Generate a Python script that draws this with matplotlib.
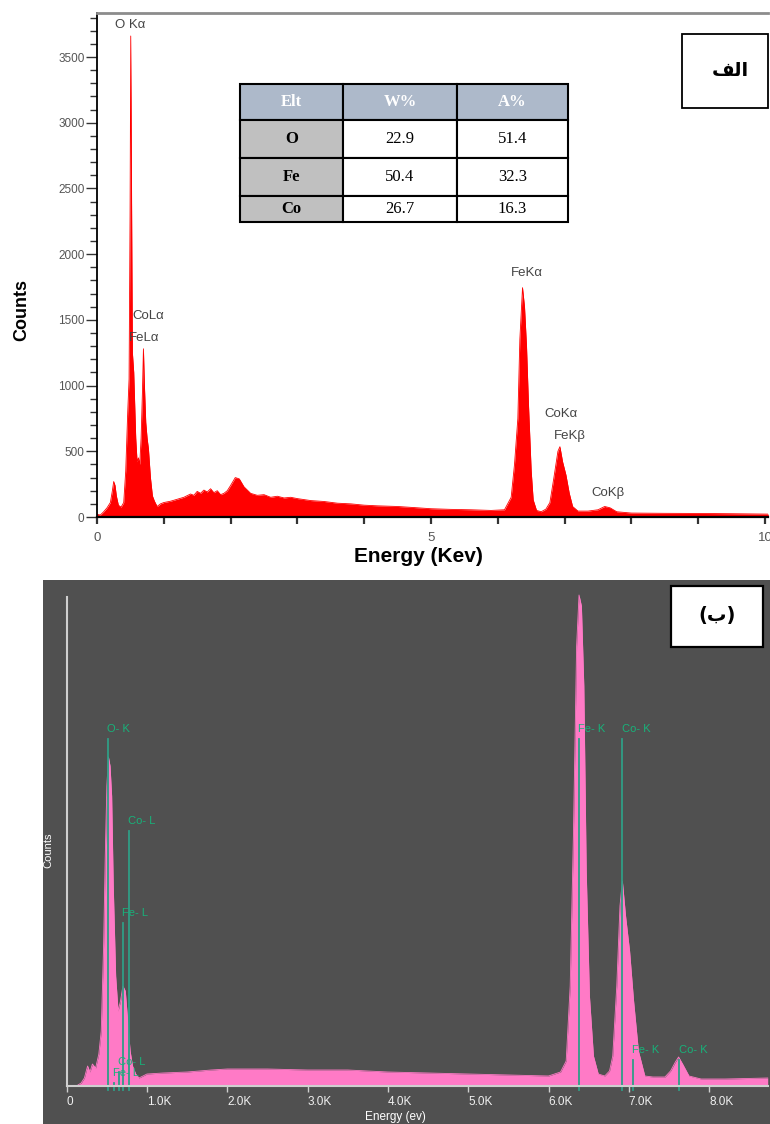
import matplotlib
matplotlib.use('Agg')
import matplotlib.pyplot as plt
from matplotlib.patches import Rectangle

plt.rcParams['font.family'] = ['Liberation Sans', 'DejaVu Sans']

# ---- panel (a): EDS spectrum, energy in keV ----
energy_a = [0.00, 0.05, 0.10, 0.15, 0.20, 0.23, 0.25, 0.27, 0.29, 0.32, 0.36, 0.40, 0.43, 0.46,
            0.48, 0.495, 0.505, 0.515, 0.53, 0.55, 0.58, 0.60, 0.62, 0.64, 0.66, 0.68, 0.695,
            0.71, 0.73, 0.75, 0.77, 0.80, 0.83, 0.86, 0.90, 0.95, 1.00, 1.10, 1.20, 1.30,
            1.40, 1.45, 1.50, 1.55, 1.60, 1.65, 1.70, 1.75, 1.80, 1.85, 1.90, 1.95, 2.00,
            2.07, 2.13, 2.20, 2.30, 2.40, 2.50, 2.60, 2.70, 2.80, 2.90, 3.00, 3.20, 3.40,
            3.60, 3.80, 4.00, 4.20, 4.50, 4.80, 5.00, 5.30, 5.60, 5.90, 6.10, 6.20, 6.25,
            6.30, 6.33, 6.37, 6.40, 6.43, 6.46, 6.50, 6.53, 6.58, 6.65, 6.72, 6.78, 6.84,
            6.90, 6.93, 6.97, 7.02, 7.07, 7.12, 7.20, 7.35, 7.50, 7.60, 7.68, 7.78, 8.00,
            8.50, 9.00, 9.50, 10.05]
counts_a = [20, 15, 40, 70, 110, 200, 270, 240, 160, 90, 75, 110, 350, 800,
            1050, 2300, 3660, 2650, 1250, 1100, 600, 420, 450, 400, 600, 950, 1280,
            1000, 720, 600, 520, 300, 160, 120, 80, 100, 110, 120, 135, 150,
            175, 165, 195, 180, 205, 190, 215, 185, 200, 170, 180, 200, 240,
            300, 290, 230, 180, 165, 170, 150, 158, 145, 150, 140, 125, 118,
            105, 100, 90, 85, 80, 70, 63, 58, 55, 50, 55, 150, 400,
            750, 1350, 1745, 1600, 1300, 850, 350, 130, 50, 40, 60, 110, 300,
            500, 535, 420, 320, 180, 80, 45, 45, 55, 80, 70, 40, 30,
            28, 27, 25, 22]

peak_names_a = ["O K\u03b1", "CoL\u03b1", "FeL\u03b1", "FeK\u03b1", "CoK\u03b1", "FeK\u03b2", "CoK\u03b2"]
peak_x_a = [0.50, 0.76, 0.70, 6.44, 6.95, 7.08, 7.65]
peak_y_a = [3745, 1530, 1360, 1857, 784, 616, 183]

table_cols = ["Elt", "W%", "A%"]
elements = ["O", "Fe", "Co"]
weight_pct = [22.9, 50.4, 26.7]
atomic_pct = [51.4, 32.3, 16.3]

# ---- panel (b): EDS spectrum, energy in keV (axis shown in eV) ----
energy_b = [0.00, 0.12, 0.18, 0.22, 0.26, 0.29, 0.32, 0.36, 0.40, 0.43, 0.46, 0.48, 0.50,
            0.52, 0.54, 0.56, 0.58, 0.61, 0.64, 0.67, 0.70, 0.73, 0.76, 0.79, 0.82, 0.86,
            0.90, 0.95, 1.00, 1.20, 1.50, 1.80, 2.00, 2.50, 3.00, 3.50, 4.00, 4.50, 5.00,
            5.50, 6.00, 6.15, 6.22, 6.27, 6.31, 6.35, 6.38, 6.41, 6.44, 6.47, 6.51, 6.56,
            6.62, 6.70, 6.76, 6.80, 6.85, 6.89, 6.92, 6.96, 7.01, 7.06, 7.12, 7.20, 7.30,
            7.45, 7.52, 7.58, 7.62, 7.67, 7.75, 7.90, 8.20, 8.73]
counts_b = [0, 0, 3, 8, 20, 14, 22, 18, 32, 55, 142, 230, 300,
            329, 320, 290, 200, 110, 75, 85, 100, 95, 65, 35, 20, 12,
            8, 10, 12, 13, 14, 16, 17, 17, 16, 16, 14, 13, 12,
            11, 10, 14, 25, 100, 250, 440, 491, 480, 400, 215, 90, 30,
            12, 10, 15, 30, 100, 180, 205, 170, 135, 85, 35, 10, 9,
            9, 15, 24, 29, 22, 10, 7, 7, 8]

line_names_b = ["O- K", "Co- L", "Fe- L", "Co- L", "Fe- L", "Fe- K", "Co- K", "Fe- K", "Co- K"]
line_x_b = [0.51, 0.77, 0.70, 0.65, 0.59, 6.38, 6.92, 7.05, 7.63]
line_h_b = [347, 255, 163, 14, 3, 347, 347, 26, 26]

xticks_b = [0, 1, 2, 3, 4, 5, 6, 7, 8]
xtick_labels_b = ["0", "1.0K", "2.0K", "3.0K", "4.0K", "5.0K", "6.0K", "7.0K", "8.0K"]

W, H = 770, 1124
fig = plt.figure(figsize=(W / 100, H / 100), dpi=100)

# ================= panel (a) =================
ax1 = fig.add_axes([97 / W, 1 - 517 / H, 671 / W, 504 / H])
ax1.fill_between(energy_a, counts_a, 0, color='#ff0000', lw=0)
ax1.plot(energy_a, counts_a, color='#ff0000', lw=0.6)
ax1.set_xlim(0, 10.045)
ax1.set_ylim(0, 3835)

ax1.spines['right'].set_visible(False)
ax1.spines['top'].set_color('#8c8c8c')
ax1.spines['top'].set_linewidth(2)
ax1.spines['left'].set_linewidth(1.3)
ax1.spines['bottom'].set_linewidth(1.6)

ax1.set_yticks(range(0, 3501, 500))
ax1.set_yticks(range(0, 3801, 100), minor=True)
ax1.set_xticks([0, 5, 10])
ax1.set_xticks(range(0, 11), minor=True)
ax1.tick_params(axis='y', which='major', length=8, width=1, color='#333333',
                labelsize=8.5, labelcolor='#555555', pad=1)
ax1.tick_params(axis='y', which='minor', length=5, width=1, color='#333333')
ax1.tick_params(axis='x', which='both', length=5, width=1.6, color='#333333',
                labelsize=9.5, labelcolor='#555555', pad=6)

for name, x, y in zip(peak_names_a, peak_x_a, peak_y_a):
    ax1.text(x, y, name, ha='center', va='center', fontsize=9.5, color='#444444')

fig.text(22 / W, 1 - 310 / H, "Counts", rotation=90, ha='center', va='center',
         fontsize=13, fontweight='bold')
fig.text(418 / W, 1 - 556 / H, "Energy (Kev)", ha='center', va='center',
         fontsize=15, fontweight='bold')

cell_text = [[el, f"{w:.1f}", f"{a:.1f}"] for el, w, a in zip(elements, weight_pct, atomic_pct)]
tab = ax1.table(cellText=cell_text, colLabels=table_cols, cellLoc='center',
                bbox=[(240 - 97) / 671, (517 - 222) / 504, 328 / 671, 138 / 504])
tab.auto_set_font_size(False)
col_w = [103, 114, 111]
row_h = [36, 39, 38, 26]
for (r, c), cell in tab.get_celld().items():
    cell.set_width(col_w[c])
    cell.set_height(row_h[r])
    cell.set_edgecolor('black')
    cell.set_linewidth(1.5)
    txt = cell.get_text()
    txt.set_fontfamily(['Liberation Serif', 'DejaVu Serif'])
    txt.set_fontsize(12)
    if r == 0:
        cell.set_facecolor('#adb9ca')
        txt.set_color('white')
        txt.set_fontweight('bold')
    elif c == 0:
        cell.set_facecolor('#c0c0c0')
        txt.set_fontweight('bold')
    else:
        cell.set_facecolor('white')

ax1.add_patch(Rectangle(((682 - 97) / 671, (517 - 108) / 504), 86 / 671, 74 / 504,
                        transform=ax1.transAxes, facecolor='white', edgecolor='black',
                        lw=1.3, clip_on=False, zorder=5))
ax1.text((730 - 97) / 671, (517 - 70) / 504, "\uFED2\uFEDF\uFE8D", transform=ax1.transAxes,
         ha='center', va='center', fontsize=14, fontweight='bold',
         family=['DejaVu Sans'], zorder=6)

# ================= panel (b) =================
ax2 = fig.add_axes([43 / W, 0, 727 / W, 544 / H])
ax2.set_facecolor('#505050')
ax2.set_xlim(-23.7 / 80.3, (770 - 66.7) / 80.3)
ax2.set_ylim(-38, 506)
ax2.fill_between(energy_b, counts_b, 0, color='#ff7ac6', lw=0)
ax2.plot(energy_b, counts_b, color='#ff7ac6', lw=0.6)

for s in ['top', 'right']:
    ax2.spines[s].set_visible(False)
ax2.spines['left'].set_position(('data', 0))
ax2.spines['left'].set_bounds(0, 489)
ax2.spines['bottom'].set_position(('data', 0))
ax2.spines['bottom'].set_bounds(0, 8.73)
for s in ['left', 'bottom']:
    ax2.spines[s].set_color('#cfcfcf')
    ax2.spines[s].set_linewidth(1.5)
ax2.set_yticks([])
ax2.set_xticks(xticks_b)
ax2.set_xticklabels(xtick_labels_b, ha='left')
ax2.tick_params(axis='x', length=4, width=1, color='#cfcfcf', labelsize=8.5,
                labelcolor='#f0f0f0', pad=3)

for name, x, h in zip(line_names_b, line_x_b, line_h_b):
    ax2.plot([x, x], [-4, h], color='#2f9e86', lw=1.3)
    ax2.text(x - 0.01, h + 5, name, ha='left', va='bottom', fontsize=8, color='#18b27a')

ax2.text((395 - 66.7) / 80.3, -31, "Energy (ev)", ha='center', va='center',
         fontsize=8.5, color='white')
ax2.text((48 - 66.7) / 80.3, 236, "Counts", rotation=90, ha='center', va='center',
         fontsize=8, color='white')

ax2.add_patch(Rectangle(((671 - 43) / 727, (1124 - 647) / 544), 92 / 727, 61 / 544,
                        transform=ax2.transAxes, facecolor='white', edgecolor='black',
                        lw=1.6, zorder=5))
ax2.text((717 - 43) / 727, (1124 - 616) / 544, "(\uFE8F)", transform=ax2.transAxes,
         ha='center', va='center', fontsize=14, fontweight='bold',
         family=['DejaVu Sans'], zorder=6)

fig.savefig('out.png', dpi=100)
